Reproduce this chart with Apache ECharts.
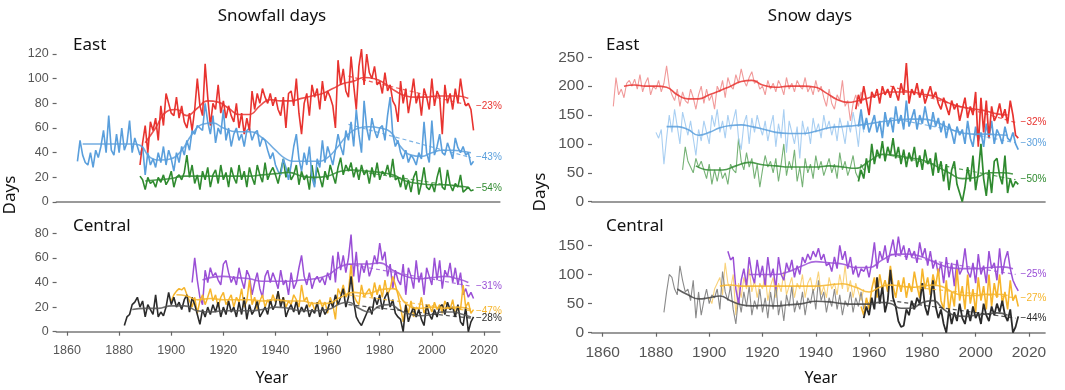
<!DOCTYPE html>
<html><head><meta charset="utf-8">
<script src="https://cdn.jsdelivr.net/npm/echarts@6/dist/echarts.min.js"></script>
<style>html,body{margin:0;padding:0;background:#fff}#c{width:1065px;height:390px}</style>
</head><body><div id="c"></div>
<script>
// ===== Tick labels =====
const YEAR_TICKS = [1860,1880,1900,1920,1940,1960,1980,2000,2020];
const SF_EAST_TICKS = [0,20,40,60,80,100,120];
const SF_CENT_TICKS = [0,20,40,60,80];
const SD_EAST_TICKS = [0,50,100,150,200,250];
const SD_CENT_TICKS = [0,50,100,150];

// ===== Snowfall days – East =====
const SF_E_BLUE_START = 1864;
const SF_E_BLUE = [33,50,38,32,30,40,28,42,36,45,58,40,70,42,38,55,40,60,42,48,66,40,52,45,38,
45,22,40,30,35,28,40,32,45,30,42,35,25,40,32,45,38,
50,42,58,55,62,60,58,80,65,55,70,48,60,55,75,50,60,45,55,60,50,55,45,58,60,50,56,58,45,52,
50,42,35,40,30,25,22,35,28,18,30,45,55,35,25,40,30,45,20,12,35,28,50,32,45,
38,30,42,55,45,38,58,50,65,45,75,55,40,82,60,50,68,58,52,60,62,50,70,85,55,
45,50,40,35,42,32,38,35,30,40,35,65,40,32,66,38,45,55,40,38,48,42,35,52,44,40,45,38,40,30,33];
const SF_E_BLUE_SMOOTH = [[1866,47],[1870,47],[1875,47],[1880,47],[1885,47],[1888,46],[1892,36],[1896,34],[1900,35],[1904,42],[1908,55],[1912,63],[1916,64],[1920,60],[1925,57],[1930,57],[1935,52],[1940,42],[1944,35],[1948,33],[1952,33],[1956,33],[1960,36],[1964,45],[1968,55],[1972,60],[1976,61],[1980,60],[1984,57],[1988,45],[1992,38],[1996,37],[2000,40],[2004,42],[2008,42],[2012,41],[2015,40]];
const SF_E_BLUE_TREND = [[1968,63],[2015,36]];

const SF_E_RED_START = 1888;
const SF_E_RED = [30,48,62,40,65,58,68,50,78,62,88,80,72,70,85,68,78,65,60,72,58,75,100,78,70,112,85,62,80,75,95,72,
82,68,78,70,65,80,60,72,55,68,58,90,75,88,80,92,85,80,88,78,85,75,70,85,60,88,90,78,100,72,55,80,88,70,95,85,92,75,98,82,
90,85,78,60,115,95,108,90,85,118,95,75,110,124,95,120,105,100,110,95,98,88,105,90,95,82,78,65,98,80,
92,72,85,100,80,88,70,92,85,75,100,78,90,85,55,95,80,88,75,92,80,100,85,78,80,75,58];
const SF_E_RED_SMOOTH = [[1890,48],[1894,60],[1898,73],[1902,75],[1906,70],[1910,76],[1914,82],[1918,81],[1922,76],[1926,71],[1930,71],[1934,78],[1938,83],[1942,82],[1946,82],[1950,84],[1954,86],[1958,88],[1962,92],[1966,96],[1970,98],[1974,101],[1978,100],[1982,96],[1986,90],[1990,86],[1994,85],[1998,85],[2002,86],[2006,86],[2010,86],[2014,84]];
const SF_E_RED_TREND = [[1968,102],[2015,78]];

const SF_E_GREEN_START = 1888;
const SF_E_GREEN = [21,18,10,20,15,17,12,20,16,22,14,18,25,12,20,22,18,24,38,20,30,15,22,10,25,18,28,12,22,26,15,30,
18,24,12,28,20,15,30,18,25,12,28,20,14,30,22,16,32,18,24,28,22,15,25,35,20,28,18,22,30,14,25,18,22,10,30,15,28,20,12,25,
18,30,22,15,28,36,22,30,25,32,20,28,18,30,22,26,15,28,20,32,18,25,22,30,20,35,18,20,12,22,
10,18,8,20,25,6,15,28,12,10,15,8,20,28,12,10,26,14,9,15,12,22,8,10,12,9,10];
const SF_E_GREEN_SMOOTH = [[1890,17],[1895,18],[1900,19],[1905,21],[1910,21],[1915,21],[1920,21],[1925,21],[1930,21],[1935,22],[1940,23],[1945,24],[1950,21],[1955,20],[1960,21],[1965,25],[1970,26],[1975,25],[1980,24],[1985,22],[1990,17],[1995,15],[2000,14],[2005,14],[2010,13],[2014,12]];
const SF_E_GREEN_TREND = [[1968,26],[2015,11]];

// ===== Snowfall days – Central =====
const SF_C_BLACK_START = 1882;
const SF_C_BLACK = [5,12,14,22,24,28,20,25,12,22,18,14,30,12,16,13,20,32,
22,28,20,24,18,26,30,16,28,22,14,6,18,12,20,14,22,16,24,12,20,14,25,16,20,12,24,14,28,10,22,14,18,25,12,16,20,14,26,18,
22,33,20,28,12,18,22,16,25,14,20,16,22,12,18,15,24,12,20,14,18,25,20,30,22,28,35,20,28,45,25,12,8,5,10,15,20,14,28,22,
30,18,28,32,20,26,15,12,10,0,22,8,15,20,12,18,10,5,22,14,10,18,12,20,22,14,24,18,20,12,22,8,5,20,0,8,12];
const SF_C_BLACK_SMOOTH = [[1885,18],[1890,19],[1895,19],[1900,21],[1905,21],[1910,17],[1915,16],[1920,17],[1925,17],[1930,17],[1935,18],[1940,20],[1945,19],[1950,17],[1955,17],[1960,18],[1965,23],[1968,24],[1972,19],[1976,16],[1980,21],[1984,22],[1988,17],[1992,14],[1996,13],[2000,14],[2004,16],[2008,16],[2012,14],[2015,12]];
const SF_C_BLACK_TREND = [[1968,22],[2015,11]];

const SF_C_ORANGE_START = 1900;
const SF_C_ORANGE = [25,30,33,35,34,36,30,25,20,28,15,25,30,22,28,35,25,30,20,28,32,22,26,30,20,28,24,35,20,25,
42,22,28,18,25,30,20,26,22,30,24,32,22,28,20,25,22,30,26,20,38,25,28,20,24,18,22,26,20,24,
15,28,22,10,35,30,38,28,32,55,30,25,22,38,28,32,35,28,40,30,38,28,42,30,35,45,38,30,20,8,
22,15,25,12,20,18,28,15,20,22,16,24,18,22,15,25,20,18,26,14,20,18,38,20,24,15,18];
const SF_C_ORANGE_SMOOTH = [[1902,30],[1906,29],[1910,26],[1915,27],[1920,26],[1925,26],[1930,26],[1935,25],[1940,26],[1945,25],[1950,25],[1955,23],[1960,23],[1965,28],[1970,32],[1975,31],[1980,34],[1985,35],[1990,23],[1995,19],[2000,20],[2005,19],[2010,20],[2015,18]];
const SF_C_ORANGE_TREND = [[1968,30],[2015,17]];

const SF_C_PURPLE_START = 1908;
const SF_C_PURPLE = [40,60,42,28,22,50,40,52,45,48,42,38,55,58,48,40,45,38,52,42,35,50,45,30,40,48,35,28,45,50,40,48,
42,35,50,38,42,30,48,35,40,52,62,45,38,48,35,42,45,40,44,38,48,42,62,40,65,50,62,48,60,79,45,65,40,55,48,58,45,52,
62,55,72,58,65,45,55,35,50,42,38,55,30,52,45,35,58,40,48,30,52,45,38,60,42,58,35,50,45,56,40,52,38,48,30,35,28,32,27];
const SF_C_PURPLE_SMOOTH = [[1912,42],[1915,44],[1920,45],[1925,44],[1930,43],[1935,41],[1940,41],[1945,41],[1950,42],[1955,43],[1960,46],[1965,53],[1970,55],[1975,55],[1980,56],[1985,50],[1990,45],[1995,43],[2000,44],[2005,45],[2010,43],[2014,40]];
const SF_C_PURPLE_TREND = [[1968,55],[2015,37]];

// ===== Snow days – East =====
const SD_E_RED_EARLY_START = 1864;
const SD_E_RED_EARLY = [165,215,185,195,180,205,210,200,212,195,220,190,205,215,185,200,195,210,190,205,235,200,185,175,195,165,
190,175,170,195,180,160,185,200,170,195,175,185,160,200,190,210,180,215,200,195,220,205,230,210,200,215,225,205,210,195,
200,185,210,195,205,190,210,200,185,215,195,205,190,210,200,195,215,190,200,185,210,190,200,180,165,195,170,160,185,175,
210,165,175,140,170,185,165,190,175];
const SD_E_RED_LATE_START = 1955;
const SD_E_RED_LATE = [160,185,170,200,175,150,190,180,195,170,200,185,195,180,200,190,175,205,185,240,170,195,185,205,180,
195,170,185,200,180,190,170,160,180,165,150,175,160,170,140,160,180,145,165,150,190,95,180,120,175,110,165,140,150,170,145,
160,135,175,150,115,110];
const SD_E_RED_SMOOTH = [[1868,200],[1872,202],[1876,200],[1880,200],[1884,198],[1888,185],[1892,178],[1896,178],[1900,185],[1904,192],[1908,200],[1912,208],[1916,210],[1920,202],[1925,198],[1930,200],[1935,200],[1940,198],[1944,188],[1948,177],[1952,172],[1956,175],[1960,180],[1964,186],[1968,190],[1972,190],[1976,190],[1980,186],[1984,183],[1988,175],[1992,167],[1996,163],[2000,160],[2004,157],[2008,152],[2012,150]];
const SD_E_RED_TREND = [[1968,200],[2015,137]];

const SD_E_BLUE_EARLY_START = 1880;
const SD_E_BLUE_EARLY = [120,110,125,65,110,150,120,160,130,100,155,135,115,140,110,80,125,105,140,120,100,150,130,160,120,140,
110,150,125,140,160,110,90,135,150,100,145,120,150,130,115,140,105,130,150,95,135,110,160,85,140,120,100,130,75,140,115,130,
100,145,120,135,110,150,125,140,115,135,105,145,125,100,140,120,155,130,95,150,120];
const SD_E_BLUE_LATE_START = 1956;
const SD_E_BLUE_LATE = [130,160,125,145,120,135,150,120,140,110,155,130,145,120,165,135,150,125,175,130,145,160,125,150,135,
165,140,125,155,130,145,120,140,110,135,120,100,130,115,125,100,140,110,95,130,105,120,95,135,110,140,100,125,115,100,130,
110,105,120,100,90];
const SD_E_BLUE_SMOOTH = [[1884,130],[1888,130],[1892,125],[1896,115],[1900,120],[1904,128],[1908,132],[1912,133],[1916,130],[1920,126],[1925,120],[1930,118],[1935,118],[1940,122],[1945,128],[1950,130],[1955,132],[1960,135],[1964,138],[1968,140],[1972,142],[1976,143],[1980,143],[1984,140],[1988,132],[1992,123],[1996,118],[2000,117],[2004,117],[2008,116],[2012,115]];
const SD_E_BLUE_TREND = [[1968,145],[2015,102]];

const SD_E_GREEN_EARLY_START = 1890;
const SD_E_GREEN_EARLY = [55,95,70,60,50,75,60,70,55,40,65,30,55,35,60,40,50,30,65,55,50,110,70,55,85,60,75,40,65,25,55,80,60,
70,50,75,35,65,100,45,70,55,90,35,60,25,75,50,65,40,80,55,70,45,60,75,50,65,40,85,55,70,45,60,80,50,40,65,55];
const SD_E_GREEN_LATE_START = 1956;
const SD_E_GREEN_LATE = [35,55,40,75,50,100,65,90,75,105,70,95,80,110,75,95,65,90,60,85,70,95,60,80,55,90,65,75,45,85,50,70,35,
65,20,55,70,30,15,0,25,60,35,80,20,50,100,40,10,55,15,70,75,45,30,80,15,40,25,35,30];
const SD_E_GREEN_SMOOTH = [[1895,62],[1900,55],[1905,55],[1910,62],[1915,68],[1920,64],[1925,62],[1930,60],[1935,60],[1940,60],[1945,62],[1950,60],[1955,58],[1960,70],[1965,82],[1970,80],[1975,76],[1980,72],[1985,62],[1990,50],[1995,40],[2000,42],[2005,50],[2010,50],[2014,48]];
const SD_E_GREEN_TREND = [[1968,80],[2015,38]];

// ===== Snow days – Central =====
const SD_C_GRAY_START = 1883;
const SD_C_GRAY = [35,70,100,95,75,65,115,90,70,75,55,90,25,70,30,55,75,50,65,60,75,40,105,70,55,80,40,15,60,35,70,45,80,30,
55,40,75,35,60,25,70,40,85,30,55,20,65,45,80,35,55,40,70,30,60,50,75,40,90,55,70,35,60,45,75,40,65,30,55,45,70,35,60,45,
70,40,55,50];
const SD_C_BLACK_START = 1958;
const SD_C_BLACK = [25,45,30,60,40,95,50,80,35,55,108,60,45,20,10,12,40,30,55,40,60,50,85,45,30,55,90,45,25,40,15,0,40,15,35,
20,50,25,15,40,20,45,25,35,15,50,30,20,45,30,50,35,55,30,20,40,0,10,28];
const SD_C_BLACK_SMOOTH = [[1888,75],[1892,65],[1896,58],[1900,60],[1904,63],[1908,55],[1912,48],[1916,46],[1920,47],[1925,46],[1930,48],[1935,50],[1940,54],[1945,53],[1950,50],[1955,49],[1960,49],[1964,52],[1968,50],[1972,42],[1976,42],[1980,52],[1984,55],[1988,40],[1992,30],[1996,28],[2000,30],[2004,32],[2008,34],[2012,30]];
const SD_C_BLACK_TREND = [[1968,55],[2015,25]];

const SD_C_ORANGE_EARLY_START = 1900;
const SD_C_ORANGE_EARLY = [60,50,75,85,95,65,120,85,75,100,30,85,60,95,75,110,70,90,60,85,75,100,55,80,95,60,85,70,105,65,80,
95,60,85,75,100,60,85,95,70,80,105,65,80,60,95,75,85,65,100,75,115,70,90,60,85,70,55,75];
const SD_C_ORANGE_LATE_START = 1957;
const SD_C_ORANGE_LATE = [45,30,60,40,75,95,60,100,75,90,70,115,80,60,90,70,95,60,85,70,105,80,60,110,75,95,65,100,80,110,55,
40,90,35,70,45,110,55,80,40,100,50,75,35,95,55,80,40,100,45,85,60,100,50,70,40,90,55,65,45];
const SD_C_ORANGE_SMOOTH = [[1904,80],[1908,82],[1912,80],[1916,80],[1920,80],[1925,80],[1930,80],[1935,80],[1940,80],[1945,82],[1950,84],[1955,78],[1960,70],[1964,78],[1968,82],[1972,80],[1976,78],[1980,80],[1984,82],[1988,78],[1992,68],[1996,64],[2000,64],[2004,66],[2008,66],[2012,64]];
const SD_C_ORANGE_TREND = [[1968,82],[2015,60]];

const SD_C_PURPLE_START = 1907;
const SD_C_PURPLE = [140,125,130,75,50,90,110,80,130,100,85,125,95,115,80,130,95,110,75,130,100,90,120,105,125,95,115,100,130,
120,135,125,140,130,145,125,135,115,120,105,130,110,150,125,140,110,130,100,115,95,110,105,115,95,120,155,110,140,125,150,
120,140,160,130,165,135,150,125,145,130,140,120,155,130,145,115,140,110,125,100,120,85,130,95,120,80,125,100,110,145,105,95,
120,85,135,100,115,85,140,110,120,90,145,100,125,140,110,90,80,72];
const SD_C_PURPLE_SMOOTH = [[1915,100],[1920,100],[1925,100],[1930,105],[1935,115],[1940,122],[1945,120],[1950,118],[1955,112],[1960,112],[1965,125],[1970,135],[1975,135],[1980,130],[1985,120],[1990,112],[1995,110],[2000,110],[2005,112],[2010,113],[2014,110]];
const SD_C_PURPLE_TREND = [[1968,135],[2015,100]];

// ===== build =====
function pairs(start, vals){ return vals.map((v,i)=>[start+i, v]); }
const C = {
  red:'#e8332f', redL:'#f19a9a', blue:'#5a9fdc', blueL:'#a9cff2', green:'#2f8a2f', greenL:'#76b276',
  purple:'#9a4fd6', purpleL:'#c9a2ea', orange:'#f6b52c', orangeL:'#f9d27a', black:'#2b2b2b', gray:'#8a8a8a'
};
const series = [];
function raw(i, data, color, w, z){
  series.push({type:'line', xAxisIndex:i, yAxisIndex:i, data, symbol:'none', z:z||2,
    lineStyle:{color, width:w}, silent:true, animation:false});
}
function smooth(i, data, color, w){
  series.push({type:'line', xAxisIndex:i, yAxisIndex:i, data, symbol:'none', smooth:0.5, z:3,
    lineStyle:{color, width:w||1.6, opacity:0.85}, silent:true, animation:false});
}
function trend(i, data, color, label){
  series.push({type:'line', xAxisIndex:i, yAxisIndex:i, data, symbol:'none', z:4,
    lineStyle:{color, width:1.2, type:[4,3], opacity:0.8}, silent:true, animation:false,
    endLabel:{show:true, formatter:label, color, fontSize:10, fontFamily:'Liberation Sans', distance:5}});
}
// Panel 0: Snowfall East
raw(0, pairs(SF_E_GREEN_START, SF_E_GREEN), C.green, 1.6, 2);
raw(0, pairs(SF_E_BLUE_START, SF_E_BLUE), C.blue, 1.6, 2);
raw(0, pairs(SF_E_RED_START, SF_E_RED), C.red, 1.6, 2);
smooth(0, SF_E_GREEN_SMOOTH, C.green); smooth(0, SF_E_BLUE_SMOOTH, C.blue); smooth(0, SF_E_RED_SMOOTH, C.red);
trend(0, SF_E_RED_TREND, C.red, '−23%'); trend(0, SF_E_BLUE_TREND, C.blue, '−43%'); trend(0, SF_E_GREEN_TREND, C.green, '−54%');
// Panel 1: Snowfall Central
raw(1, pairs(SF_C_PURPLE_START, SF_C_PURPLE), C.purple, 1.5, 2);
raw(1, pairs(SF_C_ORANGE_START, SF_C_ORANGE), C.orange, 1.5, 2);
raw(1, pairs(SF_C_BLACK_START, SF_C_BLACK), C.black, 1.6, 2);
smooth(1, SF_C_PURPLE_SMOOTH, C.purple); smooth(1, SF_C_ORANGE_SMOOTH, C.orange); smooth(1, SF_C_BLACK_SMOOTH, '#555');
trend(1, SF_C_PURPLE_TREND, C.purple, '−31%'); trend(1, SF_C_ORANGE_TREND, C.orange, '−47%'); trend(1, SF_C_BLACK_TREND, C.black, '−28%');
// Panel 2: Snow days East
raw(2, pairs(SD_E_GREEN_EARLY_START, SD_E_GREEN_EARLY), C.greenL, 1.1, 1);
raw(2, pairs(SD_E_BLUE_EARLY_START, SD_E_BLUE_EARLY), C.blueL, 1.1, 1);
raw(2, pairs(SD_E_RED_EARLY_START, SD_E_RED_EARLY), C.redL, 1.1, 1);
raw(2, pairs(SD_E_GREEN_LATE_START, SD_E_GREEN_LATE), C.green, 1.7, 2);
raw(2, pairs(SD_E_BLUE_LATE_START, SD_E_BLUE_LATE), C.blue, 1.7, 2);
raw(2, pairs(SD_E_RED_LATE_START, SD_E_RED_LATE), C.red, 1.7, 2);
smooth(2, SD_E_GREEN_SMOOTH, C.green); smooth(2, SD_E_BLUE_SMOOTH, C.blue); smooth(2, SD_E_RED_SMOOTH, C.red);
trend(2, SD_E_RED_TREND, C.red, '−32%'); trend(2, SD_E_BLUE_TREND, C.blue, '−30%'); trend(2, SD_E_GREEN_TREND, C.green, '−50%');
// Panel 3: Snow days Central
raw(3, pairs(SD_C_ORANGE_EARLY_START, SD_C_ORANGE_EARLY), C.orangeL, 1.1, 1);
raw(3, pairs(SD_C_GRAY_START, SD_C_GRAY), C.gray, 1.1, 1);
raw(3, pairs(SD_C_PURPLE_START, SD_C_PURPLE), C.purple, 1.5, 2);
raw(3, pairs(SD_C_ORANGE_LATE_START, SD_C_ORANGE_LATE), C.orange, 1.6, 2);
raw(3, pairs(SD_C_BLACK_START, SD_C_BLACK), C.black, 1.8, 2);
smooth(3, SD_C_PURPLE_SMOOTH, C.purple); smooth(3, SD_C_ORANGE_SMOOTH, C.orange); smooth(3, SD_C_BLACK_SMOOTH, '#444');
trend(3, SD_C_PURPLE_TREND, C.purple, '−25%'); trend(3, SD_C_ORANGE_TREND, C.orange, '−27%'); trend(3, SD_C_BLACK_TREND, C.black, '−44%');

const grids = [
  {left:56.6, top:46.6, width:443, height:155.4},
  {left:56.6, top:228.4, width:443, height:103.3},
  {left:592, top:51.5, width:452.9, height:150.2},
  {left:592, top:233.7, width:452.9, height:99}
];
const yMax = [126, 84, 260, 170];
const yTicks = [SF_EAST_TICKS, SF_CENT_TICKS, SD_EAST_TICKS, SD_CENT_TICKS];
const lblSize = [12.5, 12.5, 15.5, 15.5];
const plain = v => String(v);
const xAxis = grids.map((g,i)=>({type:'value', gridIndex:i, min:1856, max:2026,
  axisLine:{show:true, onZero:false, lineStyle:{color:'#9a9a9a', width:2}},
  axisTick:{show:false}, axisLabel:{show:false}, splitLine:{show:false}}));
[1,3].forEach(i=>{
  xAxis.push({type:'value', gridIndex:i, min:1856, max:2026, position:'bottom', offset:10,
    axisLine:{show:false},
    axisTick:{show:true, length:4, customValues:YEAR_TICKS, lineStyle:{color:'#666', width:1.2}},
    axisLabel:{show:true, customValues:YEAR_TICKS, formatter:plain, margin:2, color:'#555', fontSize:lblSize[i], fontFamily:'Liberation Sans'},
    splitLine:{show:false}});
});
const yAxis = grids.map((g,i)=>({type:'value', gridIndex:i, min:0, max:yMax[i],
  axisLine:{show:false},
  axisTick:{show:true, length:4, customValues:yTicks[i], lineStyle:{color:'#666', width:1.2}},
  axisLabel:{customValues:yTicks[i], formatter:plain, margin:8, color:'#555', fontSize:lblSize[i], fontFamily:'Liberation Sans'},
  splitLine:{show:false}}));

const F = 'Noto Sans';
function txt(x,y,text,size,extra,align){ return Object.assign({type:'text', x, y, silent:true,
  style:{text, fontSize:size, fontFamily:F, fill:'#111', align:align||'center', verticalAlign:'middle'}}, extra||{}); }
const graphic = [
  txt(272,16,'Snowfall days',17),
  txt(810,16,'Snow days',17),
  txt(73,45,'East',17,null,'left'),
  txt(73,226,'Central',17,null,'left'),
  txt(606,45,'East',17,null,'left'),
  txt(606,226,'Central',17,null,'left'),
  txt(10,195,'Days',17,{rotation:Math.PI/2}),
  txt(540,192,'Days',17,{rotation:Math.PI/2}),
  txt(272,378,'Year',16),
  txt(821,378,'Year',16)
];

const chart = echarts.init(document.getElementById('c'), null, {renderer:'canvas'});
chart.setOption({animation:false, grid:grids, xAxis, yAxis, series, graphic});
</script></body></html>
